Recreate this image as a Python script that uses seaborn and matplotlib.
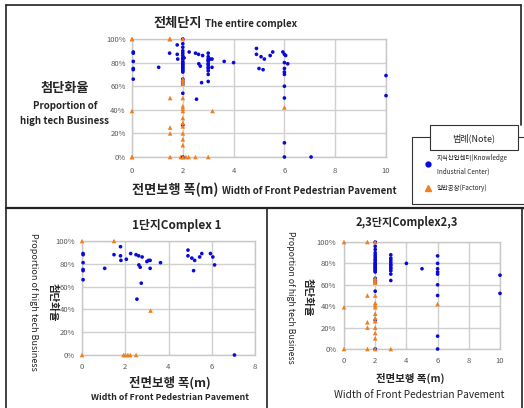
import numpy as np
import pandas as pd
import seaborn as sns
import matplotlib.pyplot as plt
from matplotlib.lines import Line2D
from matplotlib.patches import Rectangle

# 1단지 (Complex 1) - 지식산업센터 / 일반공장
c1_center_x = [0.05, 0.05, 0.05, 0.05, 0.05, 0.05, 1.05, 1.48, 1.78, 1.78, 1.8, 2.05, 2.25,
               2.5, 2.62, 2.78, 2.63, 2.69, 2.74, 2.54, 3.0, 3.08, 3.15, 3.15, 3.63, 4.9,
               4.9, 5.08, 5.21, 5.16, 5.44, 5.54, 5.94, 6.05, 6.13, 7.05]
c1_center_y = [89, 88, 81, 75, 74, 66, 76, 88, 95, 87, 83, 84, 89,
               88, 87, 86, 79, 77, 63, 49, 82, 83, 83, 76, 81, 92,
               87, 85, 83, 74, 86, 89, 89, 86, 79, 0]
c1_factory_x = [0, 1.48, 3.17, 0, 1.92, 2.0, 2.12, 2.23, 2.5]
c1_factory_y = [100, 100, 39, 0, 0, 0, 0, 0, 0]

# 2,3단지 (Complex 2,3)
c23_center_x = [2] * 24 + [3] * 11 + [4, 5] + [6] * 9 + [10, 10]
c23_center_y = [100, 96, 93, 90, 88, 86, 84, 83, 81, 80, 79, 78, 77, 76, 75, 74, 73, 72,
                66, 64, 62, 54, 27, 0,
                88, 85, 83, 81, 79, 78, 76, 75, 73, 70, 64,
                80, 75,
                87, 80, 75, 72, 70, 60, 50, 12, 0,
                69, 52]
c23_factory_x = [0] * 3 + [1.5] * 5 + [2] * 15 + [3, 6]
c23_factory_y = [100, 39, 0,
                 100, 50, 25, 20, 0,
                 100, 66, 64, 62, 50, 43, 41, 39, 33, 29, 26, 20, 15, 10, 0,
                 0, 42]

y_ticks = [0, 20, 40, 60, 80, 100]
type_names = ['지식산업센터', '일반공장']


def make_df(cx, cy, fx_, fy_):
    a = pd.DataFrame({'폭': cx, '비율': cy, '유형': type_names[0]})
    b = pd.DataFrame({'폭': fx_, '비율': fy_, '유형': type_names[1]})
    return pd.concat([a, b], ignore_index=True)


df1 = make_df(c1_center_x, c1_center_y, c1_factory_x, c1_factory_y)
df23 = make_df(c23_center_x, c23_center_y, c23_factory_x, c23_factory_y)
df_all = pd.concat([df1, df23], ignore_index=True)

sns.set_style('white')
plt.rcParams['font.family'] = ['Noto Sans CJK KR', 'DejaVu Sans']

BLUE = '#0a0ad8'
ORANGE = '#f0801e'
palette = {type_names[0]: BLUE, type_names[1]: ORANGE}
markers = {type_names[0]: 'o', type_names[1]: '^'}
sizes = {type_names[0]: 7, type_names[1]: 11}

W, H = 524, 408
def fx(px):
    return px / W
def fy(py):
    return 1 - py / H

fig = plt.figure(figsize=(5.24, 4.08), dpi=100)


def panel(rect, df, xmax, xpad, ypad):
    ax = fig.add_axes(rect)
    sns.scatterplot(data=df, x='폭', y='비율', hue='유형', style='유형', size='유형',
                    palette=palette, markers=markers, sizes=sizes, linewidth=0,
                    legend=False, ax=ax, clip_on=False, zorder=3)
    ax.set_xlim(0, xmax)
    ax.set_ylim(0, 100)
    ax.set_xticks(np.arange(0, xmax + 1, 2))
    ax.set_yticks(y_ticks)
    ax.set_yticklabels([f'{v}%' for v in y_ticks])
    ax.grid(True, color='#d0d0d0', lw=1.0)
    ax.set_axisbelow(True)
    for s in ax.spines.values():
        s.set_color('#c8c8c8')
        s.set_linewidth(1.0)
    ax.tick_params(axis='x', length=0, labelsize=5.5, colors='#595959', pad=xpad)
    ax.tick_params(axis='y', length=0, labelsize=5.5, colors='#595959', pad=ypad)
    ax.set_xlabel('')
    ax.set_ylabel('')
    return ax


# 전체단지
panel([fx(132), fy(157), fx(386) - fx(132), fy(39) - fy(157)], df_all, 10, 7, 4.5)
fig.text(fx(202), fy(27), '전체단지', ha='right', va='baseline', fontsize=9.5, fontweight='bold')
fig.text(fx(205), fy(27), 'The entire complex', ha='left', va='baseline', fontsize=7, fontweight='bold')
fig.text(fx(218), fy(194), '전면보행 폭(m)', ha='right', va='baseline', fontsize=9.5, fontweight='bold')
fig.text(fx(222), fy(194), 'Width of Front Pedestrian Pavement', ha='left', va='baseline',
         fontsize=7, fontweight='bold')
fig.text(fx(65), fy(88), '첨단화율', ha='center', va='center', fontsize=9.5, fontweight='bold')
fig.text(fx(65), fy(106), 'Proportion of', ha='center', va='center', fontsize=7, fontweight='bold')
fig.text(fx(65), fy(121), 'high tech Business', ha='center', va='center', fontsize=7, fontweight='bold')

# 범례(Note)
fig.add_artist(Rectangle((fx(412), fy(204)), fx(530) - fx(412), fy(137) - fy(204),
                         transform=fig.transFigure, fill=False, ec='#333333', lw=0.8))
fig.add_artist(Rectangle((fx(430), fy(150)), fx(518) - fx(430), fy(125) - fy(150),
                         transform=fig.transFigure, fc='white', ec='#333333', lw=0.8, zorder=5))
fig.text(fx(474), fy(138), '범례(Note)', ha='center', va='center', fontsize=6.5, zorder=6)
fig.add_artist(Line2D([fx(428)], [fy(164)], transform=fig.transFigure, marker='o', ms=3.5,
                      color=BLUE, mec=BLUE, ls=''))
fig.add_artist(Line2D([fx(428)], [fy(188)], transform=fig.transFigure, marker='^', ms=4.5,
                      color=ORANGE, mec=ORANGE, ls=''))
fig.text(fx(437), fy(158), '지식산업센터(Knowledge', ha='left', va='center', fontsize=4.6)
fig.text(fx(437), fy(172), 'Industrial Center)', ha='left', va='center', fontsize=4.6)
fig.text(fx(437), fy(188), '일반공장(Factory)', ha='left', va='center', fontsize=4.6)

# 1단지
panel([fx(82), fy(355), fx(255) - fx(82), fy(241) - fy(355)], df1, 8, 6, 5)
fig.text(fx(177), fy(225), '1단지Complex 1', ha='center', va='center', fontsize=8.5, fontweight='bold')
fig.text(fx(170), fy(383), '전면보행 폭(m)', ha='center', va='center', fontsize=9, fontweight='bold')
fig.text(fx(170), fy(398), 'Width of Front Pedestrian Pavement', ha='center', va='center',
         fontsize=6.3, fontweight='bold')
fig.text(fx(33), fy(302), 'Proportion of high tech Business', ha='center', va='center',
         rotation=270, fontsize=6.5, fontweight='medium')
fig.text(fx(53), fy(302), '첨단화율', ha='center', va='center', rotation=270,
         fontsize=7.5, fontweight='bold')

# 2,3단지
panel([fx(344), fy(349), fx(500) - fx(344), fy(242) - fy(349)], df23, 10, 5.5, 5.5)
fig.text(fx(407), fy(223), '2,3단지Complex2,3', ha='center', va='center', fontsize=8, fontweight='bold')
fig.text(fx(410), fy(378), '전면보행 폭(m)', ha='center', va='center', fontsize=7.5, fontweight='bold')
fig.text(fx(419), fy(395), 'Width of Front Pedestrian Pavement', ha='center', va='center', fontsize=7.3)
fig.text(fx(290), fy(297), 'Proportion of high tech Business', ha='center', va='center',
         rotation=270, fontsize=6.3)
fig.text(fx(308), fy(297), '첨단화율', ha='center', va='center', rotation=270,
         fontsize=7.5, fontweight='bold')

# 테두리
def hline(y, x0, x1, lw=1.2):
    fig.add_artist(Line2D([fx(x0), fx(x1)], [fy(y), fy(y)], transform=fig.transFigure,
                          color='#222222', lw=lw))
def vline(x, y0, y1, lw=1.2):
    fig.add_artist(Line2D([fx(x), fx(x)], [fy(y0), fy(y1)], transform=fig.transFigure,
                          color='#222222', lw=lw))

hline(4.5, 6, 521)
vline(6, 4.5, 408)
vline(521, 4.5, 125)
hline(208, 6, 524, lw=1.6)
vline(267, 208, 408)
vline(522, 208, 408)

fig.savefig('out.png', dpi=100)
